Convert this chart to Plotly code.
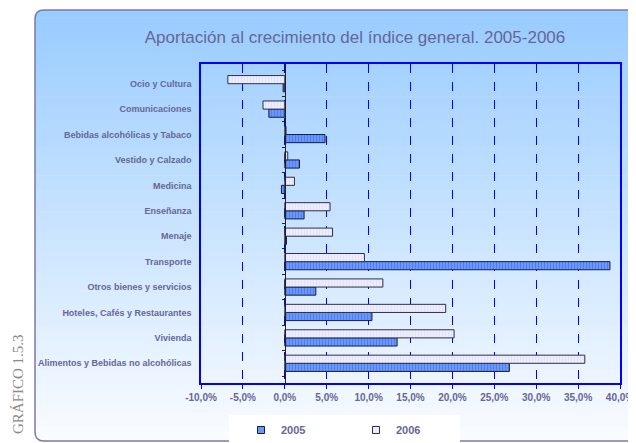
import plotly.graph_objects as go

categories = ["Alimentos y Bebidas no alcohólicas", "Vivienda", "Hoteles, Cafés y Restaurantes",
              "Otros bienes y servicios", "Transporte", "Menaje", "Enseñanza", "Medicina",
              "Vestido y Calzado", "Bebidas alcohólicas y Tabaco", "Comunicaciones", "Ocio y Cultura"]
v2005 = [26.8, 13.4, 10.4, 3.7, 38.8, 0.2, 2.3, -0.4, 1.75, 4.8, -1.9, -0.2]
v2006 = [35.8, 20.2, 19.2, 11.7, 9.5, 5.7, 5.4, 1.15, 0.35, 0.15, -2.6, -6.8]
tick_vals = [-10, -5, 0, 5, 10, 15, 20, 25, 30, 35, 40]
tick_text = ["-10,0%", "-5,0%", "0,0%", "5,0%", "10,0%", "15,0%", "20,0%", "25,0%", "30,0%", "35,0%", "40,0%"]

OFF = 8  # page body margin
W, H = 636 - OFF, 443 - OFF
WL, WR, WT, WB = 201, 620, 64, 383
L, R, T, B = WL - OFF, WR - OFF, WT - OFF, WB - OFF
TXT = "#666699"
FONT = "Liberation Sans, Arial, sans-serif"

def px(x):  # window pixel -> paper
    return (x - WL) / (WR - WL)

def py(y):
    return (WB - y) / (WB - WT)

fig = go.Figure()
fig.add_trace(go.Bar(
    y=categories, x=v2005, name="2005", orientation="h", showlegend=False,
    marker=dict(color="#6699ff", line=dict(color="#1a1a40", width=1),
                pattern=dict(shape="|", size=3, solidity=0.25, fgcolor="#3355cc", bgcolor="#6699ff")),
))
fig.add_trace(go.Bar(
    y=categories, x=v2006, name="2006", orientation="h", showlegend=False,
    marker=dict(color="#ececff", line=dict(color="#303040", width=1),
                pattern=dict(shape="|", size=3, solidity=0.2, fgcolor="#c8c8e8", bgcolor="#ececff")),
))
fig.add_trace(go.Scatter(x=[None], y=[None], mode="markers", name="2005",
                         marker=dict(symbol="square", size=7, color="#6699ff", line=dict(color="#1a1a40", width=1))))
fig.add_trace(go.Scatter(x=[None], y=[None], mode="markers", name="2006",
                         marker=dict(symbol="square", size=7, color="#ececff", line=dict(color="#303040", width=1))))
fig.add_trace(go.Scatter(y=categories, x=[None]*len(categories), yaxis="y2", showlegend=False, hoverinfo="skip"))

shapes = []
x0p, x1p = 35, 650
y0p, y1p = 10, 441
n = 60
top = (153, 204, 255)
bot = (250, 252, 255)
rad = 9
for i in range(n):
    ya = y0p + (y1p - y0p) * i / n
    yb = y0p + (y1p - y0p) * (i + 1) / n + 0.6
    t = i / (n - 1)
    c = tuple(int(top[k] + (bot[k] - top[k]) * t) for k in range(3))
    col = "rgb(%d,%d,%d)" % c
    if i == 0:
        path = (f"M {px(x0p)},{py(yb)} L {px(x0p)},{py(ya+rad)} Q {px(x0p)},{py(ya)} {px(x0p+rad)},{py(ya)} "
                f"L {px(x1p)},{py(ya)} L {px(x1p)},{py(yb)} Z")
        shapes.append(dict(type="path", path=path, xref="paper", yref="paper", fillcolor=col, line=dict(width=0), layer="below"))
    elif i == n - 1:
        path = (f"M {px(x0p)},{py(ya)} L {px(x0p)},{py(y1p-rad)} Q {px(x0p)},{py(y1p)} {px(x0p+rad)},{py(y1p)} "
                f"L {px(x1p)},{py(y1p)} L {px(x1p)},{py(ya)} Z")
        shapes.append(dict(type="path", path=path, xref="paper", yref="paper", fillcolor=col, line=dict(width=0), layer="below"))
    else:
        shapes.append(dict(type="rect", xref="paper", yref="paper", x0=px(x0p), x1=px(x1p), y0=py(yb), y1=py(ya),
                           fillcolor=col, line=dict(width=0), layer="below"))
border = (f"M {px(x1p)},{py(y0p)} L {px(x0p+rad)},{py(y0p)} Q {px(x0p)},{py(y0p)} {px(x0p)},{py(y0p+rad)} "
          f"L {px(x0p)},{py(y1p-rad)} Q {px(x0p)},{py(y1p)} {px(x0p+rad)},{py(y1p)} L {px(x1p)},{py(y1p)}")
shapes.append(dict(type="path", path=border, xref="paper", yref="paper", line=dict(color="#7a7aa8", width=1.5), layer="below"))
shapes.append(dict(type="rect", xref="paper", yref="paper", x0=px(229), x1=px(460), y0=py(446), y1=py(415),
                   fillcolor="white", line=dict(width=0), layer="below"))

fig.update_layout(
    width=W, height=H,
    margin=dict(l=L, r=W - R, t=T, b=H - B, pad=0, autoexpand=False),
    paper_bgcolor="white", plot_bgcolor="rgba(0,0,0,0)",
    font=dict(family=FONT, color=TXT),
    title=dict(text="Aportación al crecimiento del índice general. 2005-2006", xref="container", yref="container",
               x=(355 - OFF) / W, xanchor="center", y=1 - (37 - OFF) / H, yanchor="middle",
               font=dict(size=17, color=TXT, family=FONT)),
    barmode="group", bargap=0.36, bargroupgap=0,
    showlegend=True,
    legend=dict(orientation="h", x=px(241), xanchor="left", y=py(430), yanchor="middle",
                bgcolor="rgba(0,0,0,0)", font=dict(size=11, color=TXT, weight="bold"), entrywidth=70,
                traceorder="normal", itemwidth=30),
    shapes=shapes,
    xaxis=dict(range=[-10, 40], tickvals=tick_vals, ticktext=tick_text, showgrid=True, gridcolor="#0000ff",
               griddash="dash", gridwidth=1, zeroline=False, showline=True, linecolor="#0000ff", linewidth=1.5,
               mirror=True, ticks="outside", tickcolor="#0000ff", ticklen=4, automargin=False,
               tickfont=dict(size=10, color=TXT, family=FONT, weight="bold"),
               fixedrange=True),
    yaxis=dict(showgrid=False, showline=True, linecolor="#0000ff", linewidth=1.5, mirror=True, ticks="",
               ticklabelstandoff=6, automargin=False,
               tickfont=dict(size=9, color=TXT, family=FONT, weight="bold")),
    yaxis2=dict(overlaying="y", matches="y", anchor="free", position=px(285), side="left", showticklabels=False,
                showline=True, linecolor="#222222", linewidth=1, ticks="outside", tickson="boundaries",
                ticklen=3, tickcolor="#222222", showgrid=False, automargin=False),
)

fig.add_annotation(text="GRÁFICO 1.5.3", xref="paper", yref="paper", x=px(18), y=py(384), textangle=-90,
                   showarrow=False, xanchor="center", yanchor="middle",
                   font=dict(family="Liberation Serif, serif", size=15, color="#8a8a8a"))

fig.write_html("out.html")
